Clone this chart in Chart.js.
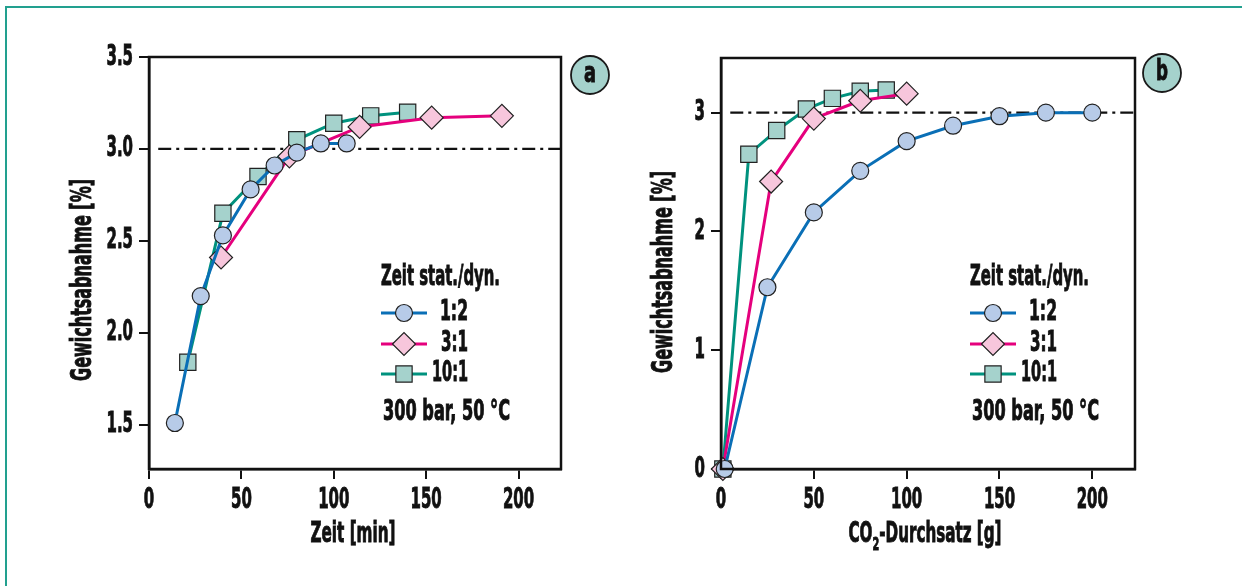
<!DOCTYPE html>
<html lang="de">
<head>
<meta charset="utf-8">
<title>Gewichtsabnahme</title>
<script src="https://cdn.jsdelivr.net/npm/chart.js@4.4.1/dist/chart.umd.min.js"></script>
<style>
  html, body { margin: 0; padding: 0; background: #fff; }
  #bild { position: relative; width: 1242px; height: 586px; overflow: hidden; background: #fff; }
  #rahmen { position: absolute; left: 5px; top: 6px; width: 1400px; height: 800px;
            border-top: 2px solid #22a08f; border-left: 2px solid #22a08f; }
  canvas { position: absolute; left: 0; top: 0; }
</style>
</head>
<body>
<div id="bild">
  <div id="rahmen"></div>
  <canvas id="chartA" width="1242" height="586"></canvas>
  <canvas id="chartB" width="1242" height="586"></canvas>
</div>
<script>
const SCHRIFT = '"Liberation Sans Narrow", "DejaVu Sans Condensed", "Liberation Sans", sans-serif';

// Diagramm a: Gewichtsabnahme über der Zeit
const zeitA12 = [14, 28, 40, 55, 68, 80, 93, 107];
const wertA12 = [1.51, 2.20, 2.53, 2.78, 2.91, 2.98, 3.03, 3.03];
const zeitA31 = [39, 76, 114, 153, 191];
const wertA31 = [2.41, 2.96, 3.12, 3.17, 3.18];
const zeitA101 = [21, 40, 59, 80, 100, 120, 140];
const wertA101 = [1.84, 2.65, 2.85, 3.05, 3.14, 3.18, 3.20];
const xTicksA = [0, 50, 100, 150, 200];
const yTicksA = [1.5, 2.0, 2.5, 3.0, 3.5];

// Diagramm b: Gewichtsabnahme über dem CO2-Durchsatz
const co2B12 = [2, 25, 50, 75, 100, 125, 150, 175, 200];
const wertB12 = [0, 1.53, 2.16, 2.51, 2.76, 2.89, 2.97, 3.00, 3.00];
const co2B31 = [1, 27, 50, 75, 100];
const wertB31 = [0, 2.42, 2.95, 3.10, 3.16];
const co2B101 = [1, 15, 30, 46, 60, 75, 89];
const wertB101 = [0, 2.65, 2.85, 3.03, 3.12, 3.18, 3.19];
const xTicksB = [0, 50, 100, 150, 200];
const yTicksB = [0, 1, 2, 3];

// strichpunktierte Linie bei 3 %
const grenzeX = [5, 223];
const grenzeY = [3.0, 3.0];

const legendeLabels = ['1:2', '3:1', '10:1'];

const serienStil = [
    { linie: '#0a6fb6', fuellung: '#b7cbe8', punkt: 'circle', radius: 8.5 },
    { linie: '#e5007d', fuellung: '#f7c6dc', punkt: 'rectRot', radius: 11.5 },
    { linie: '#00927e', fuellung: '#a5d2cc', punkt: 'rect', radius: 11.5 }
];

function punkte(xs, ys) {
    return xs.map((x, i) => ({ x: x, y: ys[i] }));
}

// fetter, schmaler Text; breite staucht auf die Breite der Vorlage
function zeichneText(ctx, text, x, y, size, breite, align) {
    ctx.save();
    ctx.font = 'bold ' + size + 'px ' + SCHRIFT;
    ctx.textBaseline = 'middle';
    ctx.textAlign = 'left';
    const w = ctx.measureText(text).width;
    const s = breite ? breite / w : 1;
    ctx.translate(x, y);
    ctx.scale(s, 1);
    let x0 = 0;
    if (align === 'right') x0 = -w;
    if (align === 'center') x0 = -w / 2;
    ctx.fillStyle = '#111';
    ctx.strokeStyle = '#111';
    ctx.lineWidth = 0.9;
    ctx.fillText(text, x0, 0);
    ctx.strokeText(text, x0, 0);
    ctx.restore();
}

// Achsenbeschriftung: Ziffern ca. 10 px breit, 19 px hoch
function zeichneZahl(ctx, text, x, y, align) {
    ctx.save();
    ctx.font = 'bold 29px ' + SCHRIFT;
    const s = 10.4 / ctx.measureText('0').width;
    const w = ctx.measureText(text).width;
    ctx.restore();
    zeichneText(ctx, text, x, y, 29, w * s, align);
}

function zeichnePunkt(ctx, stil, x, y) {
    const r = stil.radius;
    ctx.save();
    ctx.beginPath();
    if (stil.punkt === 'circle') {
        ctx.arc(x, y, r, 0, Math.PI * 2);
    } else if (stil.punkt === 'rectRot') {
        ctx.moveTo(x - r, y);
        ctx.lineTo(x, y - r);
        ctx.lineTo(x + r, y);
        ctx.lineTo(x, y + r);
        ctx.closePath();
    } else {
        const h = r * Math.SQRT1_2;
        ctx.rect(x - h, y - h, 2 * h, 2 * h);
    }
    ctx.fillStyle = stil.fuellung;
    ctx.fill();
    ctx.lineWidth = 1.2;
    ctx.strokeStyle = '#222';
    ctx.stroke();
    ctx.restore();
}

function erstelleDiagramm(id, serien, cfg) {
    const ctx = document.getElementById(id).getContext('2d');

    const datasets = serien.map((s, i) => ({
        label: legendeLabels[i],
        data: s,
        borderColor: serienStil[i].linie,
        borderWidth: 3,
        backgroundColor: serienStil[i].fuellung,
        pointStyle: serienStil[i].punkt,
        pointRadius: serienStil[i].radius,
        pointBackgroundColor: serienStil[i].fuellung,
        pointBorderColor: '#222',
        pointBorderWidth: 1.2,
        tension: 0,
        clip: false
    }));
    datasets.push({
        label: 'Grenze',
        data: punkte(grenzeX, grenzeY),
        borderColor: '#111',
        borderWidth: 2.2,
        borderDash: [13, 5, 3, 5],
        pointRadius: 0,
        tension: 0
    });

    const rahmenPlugin = {
        id: 'rahmen_' + id,
        afterDraw(chart) {
            const c = chart.ctx;
            const a = chart.chartArea;
            c.save();
            c.strokeStyle = '#111';
            c.lineWidth = 2.5;
            c.strokeRect(a.left, a.top, a.right - a.left, a.bottom - a.top);
            c.restore();

            // Tick-Beschriftungen aus den Skalen
            const sx = chart.scales.x;
            sx.ticks.forEach(t => {
                zeichneZahl(c, t.label, sx.getPixelForValue(t.value), sx.top + 31, 'center');
            });
            const sy = chart.scales.y;
            sy.ticks.forEach(t => {
                zeichneZahl(c, t.label, sy.right - 16, sy.getPixelForValue(t.value), 'right');
            });

            // Achsentitel
            cfg.xTitel(c);
            c.save();
            c.translate(cfg.yTitelX, cfg.yTitelY);
            c.rotate(-Math.PI / 2);
            zeichneText(c, 'Gewichtsabnahme [%]', 0, 0, 28, 202, 'center');
            c.restore();

            // Legende
            const L = cfg.legende;
            zeichneText(c, 'Zeit stat./dyn.', L.x, L.titelY, 28, 119, 'left');
            const breiten = [28, 27, 36];
            legendeLabels.forEach((lab, i) => {
                const y = L.zeilen[i];
                c.save();
                c.strokeStyle = serienStil[i].linie;
                c.lineWidth = 3;
                c.beginPath();
                c.moveTo(L.x, y);
                c.lineTo(L.x + 46, y);
                c.stroke();
                c.restore();
                zeichnePunkt(c, serienStil[i], L.x + 23, y);
                zeichneText(c, lab, L.rechts, y, 28, breiten[i], 'right');
            });
            zeichneText(c, '300 bar, 50 °C', L.x + 2, L.hinweisY, 28, 127, 'left');

            // Kennbuchstabe
            c.save();
            c.beginPath();
            c.arc(cfg.kreisX, cfg.kreisY, 19, 0, Math.PI * 2);
            c.fillStyle = '#a5d2cc';
            c.fill();
            c.lineWidth = 1.8;
            c.strokeStyle = '#1a1a1a';
            c.stroke();
            c.restore();
            zeichneText(c, cfg.buchstabe, cfg.kreisX, cfg.kreisY, 28, 12, 'center');
        }
    };

    return new Chart(ctx, {
        type: 'line',
        data: { datasets: datasets },
        options: {
            responsive: false,
            animation: false,
            events: [],
            layout: { padding: cfg.padding },
            plugins: {
                legend: { display: false },
                tooltip: { enabled: false }
            },
            scales: {
                x: {
                    type: 'linear',
                    min: 0,
                    max: 223,
                    afterFit: (scale) => { scale.height = 70; },
                    afterBuildTicks: (scale) => { scale.ticks = cfg.xTicks.map(v => ({ value: v })); },
                    border: { display: true, color: '#111', width: 2.5 },
                    grid: { drawOnChartArea: false, tickLength: 10, color: '#111', lineWidth: 2 },
                    ticks: {
                        display: false,
                        callback: (v) => String(v)
                    }
                },
                y: {
                    type: 'linear',
                    min: cfg.yMin,
                    max: cfg.yMax,
                    afterFit: (scale) => { scale.width = 70; },
                    afterBuildTicks: (scale) => { scale.ticks = cfg.yTicks.map(v => ({ value: v })); },
                    border: { display: true, color: '#111', width: 2.5 },
                    grid: { drawOnChartArea: false, tickLength: 10, color: '#111', lineWidth: 2 },
                    ticks: {
                        display: false,
                        callback: cfg.yFormat
                    }
                }
            }
        },
        plugins: [rahmenPlugin]
    });
}

const charts = {};

charts.a = erstelleDiagramm('chartA', [
    punkte(zeitA12, wertA12),
    punkte(zeitA31, wertA31),
    punkte(zeitA101, wertA101)
], {
    padding: { left: 79, top: 57, right: 681, bottom: 47 },
    xTicks: xTicksA,
    yTicks: yTicksA,
    yMin: 1.26,
    yMax: 3.5,
    yFormat: (v) => v.toFixed(1),
    yTitelX: 84,
    yTitelY: 280,
    xTitel: (c) => zeichneText(c, 'Zeit [min]', 353, 535, 28, 85, 'center'),
    legende: { x: 381, titelY: 278, zeilen: [313, 344, 374], rechts: 468, hinweisY: 413 },
    kreisX: 590,
    kreisY: 75,
    buchstabe: 'a'
});

charts.b = erstelleDiagramm('chartB', [
    punkte(co2B12, wertB12),
    punkte(co2B31, wertB31),
    punkte(co2B101, wertB101)
], {
    padding: { left: 651, top: 58, right: 107, bottom: 47 },
    xTicks: xTicksB,
    yTicks: yTicksB,
    yMin: 0,
    yMax: 3.46,
    yFormat: (v) => String(v),
    yTitelX: 665,
    yTitelY: 272,
    xTitel: (c) => {
        // CO2 mit tiefgestellter 2
        c.save();
        c.font = 'bold 28px ' + SCHRIFT;
        const w1 = c.measureText('CO').width;
        const w3 = c.measureText('-Durchsatz [g]').width;
        c.font = 'bold 18px ' + SCHRIFT;
        const w2 = c.measureText('2').width;
        const s = 153 / (w1 + w2 + w3);
        c.translate(925 - 153 / 2, 535);
        c.scale(s, 1);
        c.fillStyle = '#111';
        c.strokeStyle = '#111';
        c.lineWidth = 0.9;
        c.textBaseline = 'middle';
        c.textAlign = 'left';
        c.font = 'bold 28px ' + SCHRIFT;
        c.fillText('CO', 0, 0);
        c.strokeText('CO', 0, 0);
        c.font = 'bold 18px ' + SCHRIFT;
        c.fillText('2', w1, 10);
        c.strokeText('2', w1, 10);
        c.font = 'bold 28px ' + SCHRIFT;
        c.fillText('-Durchsatz [g]', w1 + w2, 0);
        c.strokeText('-Durchsatz [g]', w1 + w2, 0);
        c.restore();
    },
    legende: { x: 970, titelY: 278, zeilen: [313, 344, 374], rechts: 1057, hinweisY: 413 },
    kreisX: 1162,
    kreisY: 73,
    buchstabe: 'b'
});
</script>
</body>
</html>
